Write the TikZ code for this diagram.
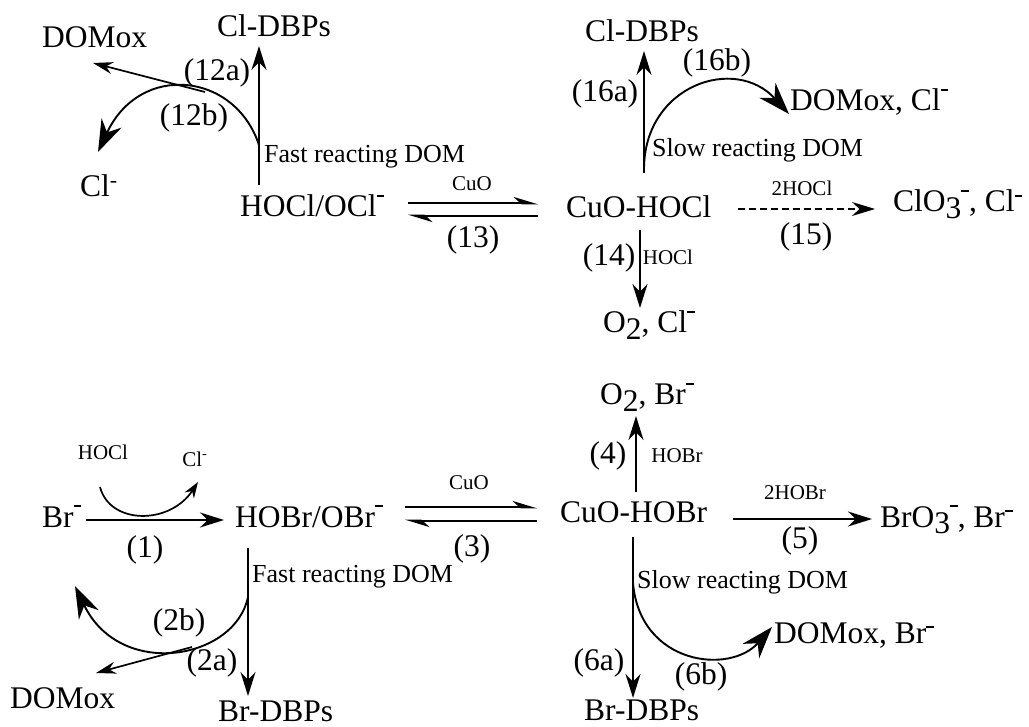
\documentclass[tikz,border=0pt]{standalone}
\usepackage{fontspec}
\setmainfont{Liberation Serif}
\usetikzlibrary{arrows.meta}
% charge bars and lowered indices
\newcommand\chm{\raisebox{0.48em}{\rule{0.24em}{0.075em}}}
\newcommand\chu{\raisebox{0.62em}{\rule{0.24em}{0.075em}}}
\newcommand\sbn[1]{\raisebox{-0.22em}{#1}}
\begin{document}
\begin{tikzpicture}[x=1pt,y=-1pt,
  main/.style={inner sep=0pt, anchor=base west, font=\fontsize{31.5}{36}\selectfont},
  num/.style={inner sep=0pt, font=\fontsize{31.5}{36}\selectfont},
  midtxt/.style={inner sep=0pt, anchor=base west, font=\fontsize{26}{30}\selectfont},
  tiny/.style={inner sep=0pt, font=\fontsize{21}{24}\selectfont},
  rx/.style={line width=1.9pt, -{Stealth[length=24pt,width=15pt]}},
  cv/.style={line width=1.9pt, -{Stealth[length=32pt,width=22pt]}},
  sd/.style={line width=1.7pt, -{Stealth[length=20pt,width=12pt]}},
  sm/.style={line width=1.7pt, -{Stealth[length=16pt,width=11pt]}},
  eq/.style={line width=2.6pt, -{Stealth[harpoon,length=20pt,width=12pt]}}
]
\useasboundingbox (0,0) rectangle (1029,727);

% ---------- chlorine part ----------
\node[main] (domoxA) at (42,48) {DOMox};
\node[main] (cldbpA) at (217,37) {Cl-DBPs};
\node[main] (clA) at (80,197) {Cl\textsuperscript{-}};
\node[main] (hocl) at (240,217) {HOCl/OCl\chu};
\node[main] (cuohocl) at (566,218) {CuO-HOCl};
\node[main] (cldbpB) at (585,42) {Cl-DBPs};
\node[main] (domoxB) at (790,111) {DOMox, Cl\chu};
\node[main] (clo3) at (893,212) {ClO\sbn{3}\chu, Cl\chm};
\node[main] (o2cl) at (603,333) {O\sbn{2}, Cl\chu};

\node[num] (l12a) at (217,73) {(12a)};
\node[num] (l12b) at (194,118) {(12b)};
\node[num] (l16a) at (605,94) {(16a)};
\node[num] (l16b) at (717,63) {(16b)};
\node[num] (l13) at (473,240) {(13)};
\node[num] (l15) at (806,237) {(15)};
\node[num] (l14) at (609,258) {(14)};

\node[midtxt] (fastA) at (264,163) {Fast reacting DOM};
\node[midtxt] (slowA) at (652,157) {Slow reacting DOM};
\node[tiny] (cuoA) at (472,184) {CuO};
\node[tiny] (hoclA) at (802,188) {2HOCl};
\node[tiny] (hoclB) at (668,257) {HOCl};

\coordinate (v12s) at (259,185);
\coordinate (v12e) at (259,46);
\coordinate (c12s) at (259,145);
\coordinate (c12e) at (98,152);
\coordinate (d12s) at (205,92);
\coordinate (d12e) at (93,63);
\coordinate (v16s) at (644,173);
\coordinate (v16e) at (644,51);
\coordinate (c16s) at (644,168);
\coordinate (c16e) at (789,114);
\coordinate (e13a) at (408,203);
\coordinate (e13b) at (538,203);
\coordinate (e13c) at (538,216);
\coordinate (e13d) at (408,216);
\coordinate (h15s) at (738,209);
\coordinate (h15e) at (875,209);
\coordinate (v14s) at (640,230);
\coordinate (v14e) at (640,308);

\draw[rx] (v12s) -- (v12e);
\draw[cv] (c12s) .. controls (235,72) and (140,62) .. (c12e);
\draw[sd] (d12s) -- (d12e);
\draw[rx] (v16s) -- (v16e);
\draw[cv] (c16s) .. controls (645,85) and (735,55) .. (c16e);
\draw[eq] (e13a) -- (e13b);
\draw[eq] (e13c) -- (e13d);
\draw[line width=1.7pt, dash pattern=on 7pt off 4pt, -{Stealth[length=23pt,width=14pt]}] (h15s) -- (h15e);
\draw[rx] (v14s) -- (v14e);

% ---------- bromine part ----------
\node[main] (o2br) at (600,405) {O\sbn{2}, Br\chu};
\node[main] (br) at (42,527) {Br\chu};
\node[main] (hobr) at (235,527) {HOBr/OBr\chu};
\node[main] (cuohobr) at (560,522) {CuO-HOBr};
\node[main] (bro3) at (880,527) {BrO\sbn{3}\chu, Br\chm};
\node[main] (domoxC) at (774,643) {DOMox, Br\chm};
\node[main] (domoxD) at (10,708) {DOMox};
\node[main] (brdbpA) at (218,721) {Br-DBPs};
\node[main] (brdbpB) at (584,720) {Br-DBPs};

\node[num] (l4) at (608,456) {(4)};
\node[num] (l5) at (800,541) {(5)};
\node[num] (l1) at (145,550) {(1)};
\node[num] (l3) at (472,549) {(3)};
\node[num] (l2b) at (179,623) {(2b)};
\node[num] (l2a) at (212,663) {(2a)};
\node[num] (l6a) at (599,663) {(6a)};
\node[num] (l6b) at (701,677) {(6b)};

\node[midtxt] (fastB) at (252,582) {Fast reacting DOM};
\node[midtxt] (slowB) at (637,588) {Slow reacting DOM};
\node[tiny] (hoclC) at (103,452) {HOCl};
\node[tiny] (clB) at (195,459) {Cl\textsuperscript{-}};
\node[tiny] (cuoB) at (469,483) {CuO};
\node[tiny] (hobrA) at (677,456) {HOBr};
\node[tiny] (hobrB) at (795,493) {2HOBr};

\coordinate (v4s) at (636,492);
\coordinate (v4e) at (636,416);
\coordinate (h1s) at (86,520);
\coordinate (h1e) at (224,520);
\coordinate (c1s) at (100,487);
\coordinate (c1e) at (198,482);
\coordinate (e3a) at (405,507);
\coordinate (e3b) at (537,507);
\coordinate (e3c) at (537,521);
\coordinate (e3d) at (405,521);
\coordinate (h5s) at (733,519);
\coordinate (h5e) at (872,519);
\coordinate (v6s) at (633,537);
\coordinate (v6e) at (633,698);
\coordinate (c6s) at (633,583);
\coordinate (c6e) at (772,627);
\coordinate (v2s) at (248,548);
\coordinate (v2e) at (248,696);
\coordinate (c2s) at (248,597);
\coordinate (c2e) at (75,586);
\coordinate (d2s) at (192,647);
\coordinate (d2e) at (96,673);

\draw[rx] (v4s) -- (v4e);
\draw[rx] (h1s) -- (h1e);
\draw[sm] (c1s) .. controls (110,525) and (170,525) .. (c1e);
\draw[eq] (e3a) -- (e3b);
\draw[eq] (e3c) -- (e3d);
\draw[rx] (h5s) -- (h5e);
\draw[rx] (v6s) -- (v6e);
\draw[cv] (c6s) .. controls (640,665) and (730,675) .. (c6e);
\draw[rx] (v2s) -- (v2e);
\draw[cv] (c2s) .. controls (235,660) and (120,680) .. (c2e);
\draw[sd] (d2s) -- (d2e);
\end{tikzpicture}
\end{document}
